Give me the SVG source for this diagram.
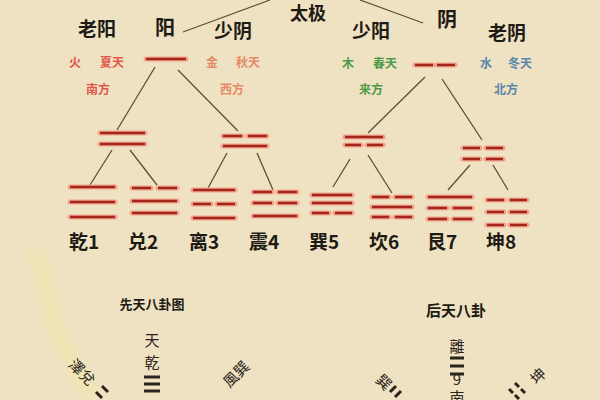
<svg xmlns="http://www.w3.org/2000/svg" width="600" height="400" viewBox="0 0 600 400">
<defs>
<style>
.bg{fill:#efe2c3}
.t{font-family:"Noto Sans CJK SC","Noto Sans CJK TC",sans-serif;font-weight:700;fill:#1e1a14;text-anchor:middle}
.big{font-size:19px}
.sm{font-size:12px;font-weight:700;text-anchor:middle;font-family:"Noto Sans CJK SC",sans-serif}
.red{fill:#e0584a}
.ora{fill:#e58a66}
.grn{fill:#4e9a48}
.blu{fill:#5a86ab}
.lbl{font-size:19px}
.cap{font-size:13px;font-weight:700}
.glow{stroke:#f4a08e;stroke-width:5;stroke-linecap:round;fill:none}
.bar{stroke:#a3261a;stroke-width:2.6;stroke-linecap:butt;fill:none}
.con{stroke:#5e4e36;stroke-width:1.3;fill:none}
.vt{font-family:"Noto Sans CJK TC","Noto Sans CJK SC",sans-serif;font-size:15px;fill:#2a241c;text-anchor:middle}
.blk{stroke:#2a241c;stroke-width:3;fill:none}
</style>
<filter id="blur" x="-20%" y="-20%" width="140%" height="140%"><feGaussianBlur stdDeviation="6"/></filter>
</defs>
<rect class="bg" x="0" y="0" width="600" height="400"/>
<path d="M35 250 C 50 290, 48 320, 66 350 S 88 390, 95 400" stroke="#f3e79a" stroke-width="12" fill="none" filter="url(#blur)" opacity="0.55"/>

<g id="connectors">
<line class="con" x1="183" y1="32" x2="270" y2="0"/>
<line class="con" x1="360" y1="0" x2="423" y2="23"/>
<line class="con" x1="155" y1="67" x2="117" y2="130"/>
<line class="con" x1="178" y1="70" x2="238" y2="131"/>
<line class="con" x1="425" y1="77" x2="368" y2="133"/>
<line class="con" x1="442" y1="79" x2="482" y2="140"/>
<line class="con" x1="112" y1="150" x2="90" y2="185"/>
<line class="con" x1="130" y1="150" x2="157" y2="185"/>
<line class="con" x1="227" y1="153" x2="208" y2="188"/>
<line class="con" x1="257" y1="153" x2="273" y2="190"/>
<line class="con" x1="350" y1="159" x2="333" y2="187"/>
<line class="con" x1="368" y1="155" x2="392" y2="193"/>
<line class="con" x1="470" y1="165" x2="448" y2="190"/>
<line class="con" x1="493" y1="165" x2="508" y2="190"/>
</g>

<g id="taiji"><text class="t" font-size="18" x="308" y="20">太极</text></g>

<g id="yang">
<text class="t" font-size="20" x="165" y="35">阳</text>
<path class="glow" d="M146 59H186"/><path class="bar" d="M146 59H186"/>
</g>
<g id="yin">
<text class="t" font-size="20" x="447" y="27">阴</text>
<path class="glow" d="M415 65H433M437 65H455"/><path class="bar" d="M415 65H433M437 65H455"/>
</g>

<g id="laoyang">
<text class="t big" x="97" y="36">老阳</text>
<text class="sm red" x="75" y="67">火</text><text class="sm red" x="112" y="67">夏天</text>
<text class="sm red" x="98" y="94">南方</text>
<path class="glow" d="M100 133H145M100 144H145"/><path class="bar" d="M100 133H145M100 144H145"/>
</g>
<g id="shaoyin">
<text class="t big" x="233" y="38">少阴</text>
<text class="sm ora" x="212" y="67">金</text><text class="sm ora" x="248" y="67">秋天</text>
<text class="sm ora" x="232" y="94">西方</text>
<path class="glow" d="M223 136H242M248 136H267M223 146H267"/><path class="bar" d="M223 136H242M248 136H267M223 146H267"/>
</g>
<g id="shaoyang">
<text class="t big" x="371" y="38">少阳</text>
<text class="sm grn" x="348" y="68">木</text><text class="sm grn" x="385" y="68">春天</text>
<text class="sm grn" x="371" y="94">来方</text>
<path class="glow" d="M345 137H383M345 145H361M367 145H383"/><path class="bar" d="M345 137H383M345 145H361M367 145H383"/>
</g>
<g id="laoyin">
<text class="t big" x="507" y="40">老阴</text>
<text class="sm blu" x="486" y="68">水</text><text class="sm blu" x="520" y="68">冬天</text>
<text class="sm blu" x="506" y="94">北方</text>
<path class="glow" d="M463 148H480M486 148H503M463 159H480M486 159H503"/><path class="bar" d="M463 148H480M486 148H503M463 159H480M486 159H503"/>
</g>

<g id="qian">
<path class="glow" d="M70 187H115M70 202H115M70 217H115"/><path class="bar" d="M70 187H115M70 202H115M70 217H115"/>
<text class="t lbl" x="84" y="249">乾1</text>
</g>
<g id="dui">
<path class="glow" d="M132 188H151M158 188H177M132 201H177M132 213H177"/><path class="bar" d="M132 188H151M158 188H177M132 201H177M132 213H177"/>
<text class="t lbl" x="143" y="249">兑2</text>
</g>
<g id="li">
<path class="glow" d="M193 190H235M193 204H211M217 204H235M193 218H235"/><path class="bar" d="M193 190H235M193 204H211M217 204H235M193 218H235"/>
<text class="t lbl" x="204" y="249">离3</text>
</g>
<g id="zhen">
<path class="glow" d="M253 192H272M278 192H297M253 203H272M278 203H297M253 216H297"/><path class="bar" d="M253 192H272M278 192H297M253 203H272M278 203H297M253 216H297"/>
<text class="t lbl" x="264" y="249">震4</text>
</g>
<g id="xun">
<path class="glow" d="M312 195H352M312 203H352M312 213H329M335 213H352"/><path class="bar" d="M312 195H352M312 203H352M312 213H329M335 213H352"/>
<text class="t lbl" x="324" y="249">巽5</text>
</g>
<g id="kan">
<path class="glow" d="M372 197H389M395 197H412M372 207H412M372 217H389M395 217H412"/><path class="bar" d="M372 197H389M395 197H412M372 207H412M372 217H389M395 217H412"/>
<text class="t lbl" x="384" y="249">坎6</text>
</g>
<g id="gen">
<path class="glow" d="M428 197H472M428 208H447M453 208H472M428 219H447M453 219H472"/><path class="bar" d="M428 197H472M428 208H447M453 208H472M428 219H447M453 219H472"/>
<text class="t lbl" x="442" y="249">艮7</text>
</g>
<g id="kun">
<path class="glow" d="M487 200H504M510 200H527M487 212H504M510 212H527M487 225H504M510 225H527"/><path class="bar" d="M487 200H504M510 200H527M487 212H504M510 212H527M487 225H504M510 225H527"/>
<text class="t lbl" x="501" y="249">坤8</text>
</g>

<g id="xiantian">
<text class="t cap" x="152" y="309">先天八卦图</text>
<text class="vt" x="152" y="346">天</text>
<text class="vt" x="152" y="368">乾</text>
<path class="blk" d="M144 377H160M144 384H160M144 391H160"/>
<text class="vt" transform="translate(78 376) rotate(45)" x="0" y="0">澤兌</text>
<path class="blk" d="M96 392l6 6M102 386l6 6" />
<text class="vt" transform="translate(240 378) rotate(-45)" x="0" y="0">風巽</text>
</g>

<g id="houtian">
<text class="t" font-size="15" x="456" y="316">后天八卦</text>
<text class="vt" x="457" y="352">離</text>
<path class="blk" d="M450 358H464M450 366H464M450 374H464" stroke-width="2.5"/>
<text class="vt" font-size="9" x="457" y="385">9</text>
<text class="vt" x="457" y="403">南</text>
<text class="vt" transform="translate(380 386) rotate(45)" x="0" y="0">巽</text>
<path class="blk" d="M390 392l6 -6M395 397l6 -6" stroke-width="2.5"/>
<text class="vt" transform="translate(542 380) rotate(-45)" x="0" y="0">坤</text>
<path class="blk" d="M515 383l4 4M521 389l4 4M509 389l4 4M515 395l4 4" stroke-width="2.5"/>
</g>
</svg>
